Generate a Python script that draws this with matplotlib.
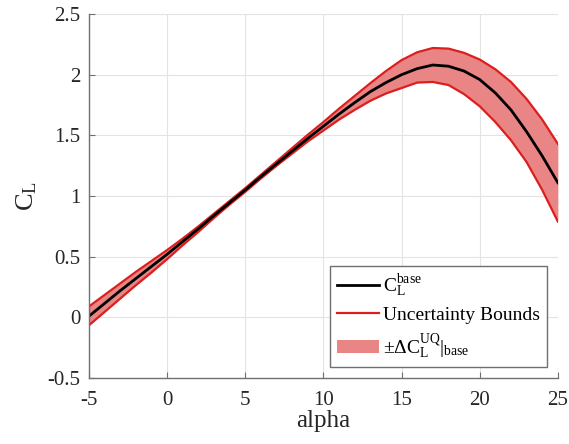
import numpy as np
import matplotlib
matplotlib.use("Agg")
import matplotlib.pyplot as plt

plt.rcParams['font.family'] = ['Liberation Serif', 'DejaVu Serif']
plt.rcParams['mathtext.fontset'] = 'custom'
plt.rcParams['mathtext.rm'] = 'Liberation Serif'
plt.rcParams['mathtext.it'] = 'Liberation Serif'

alpha = np.arange(-5, 26)

cl_base = [0.01, 0.115, 0.22, 0.32, 0.42, 0.52, 0.625, 0.73, 0.84, 0.945,
           1.05, 1.16, 1.265, 1.37, 1.475, 1.575, 1.675, 1.77, 1.86, 1.935,
           2.00, 2.05, 2.08, 2.07, 2.03, 1.96, 1.85, 1.71, 1.53, 1.33, 1.11]
cl_upper = [0.09, 0.185, 0.28, 0.375, 0.465, 0.555, 0.65, 0.75, 0.855, 0.96,
            1.065, 1.175, 1.285, 1.395, 1.505, 1.61, 1.72, 1.825, 1.93, 2.03,
            2.12, 2.185, 2.22, 2.215, 2.18, 2.125, 2.045, 1.94, 1.80, 1.63, 1.43]
cl_lower = [-0.065, 0.045, 0.155, 0.265, 0.37, 0.48, 0.595, 0.705, 0.82, 0.93,
            1.035, 1.145, 1.25, 1.35, 1.45, 1.54, 1.63, 1.71, 1.785, 1.845,
            1.89, 1.935, 1.94, 1.915, 1.84, 1.74, 1.61, 1.46, 1.28, 1.05, 0.79]

xticks = [-5, 0, 5, 10, 15, 20, 25]
yticks = [-0.5, 0, 0.5, 1, 1.5, 2, 2.5]

fig = plt.figure(figsize=(5.69, 4.44), dpi=100)
ax = fig.add_axes([0.1564, 0.1486, 0.824, 0.8198])

band = ax.fill_between(alpha, cl_lower, cl_upper, color='#e98585', linewidth=0,
                       label=r'$\pm\Delta \mathregular{C_L^{UQ}|_{base}}$')
ax.plot(alpha, cl_upper, color='#dc1e1e', linewidth=1.6)
bounds, = ax.plot(alpha, cl_lower, color='#dc1e1e', linewidth=1.6, label='Uncertainty Bounds')
base, = ax.plot(alpha, cl_base, color='black', linewidth=2.0, label=r'$\mathregular{C_L^{base}}$')

ax.set_xlim(-5, 25)
ax.set_ylim(-0.5, 2.5)
ax.set_xticks(xticks)
ax.set_yticks(yticks)
ax.set_xticklabels([f'{t:g}' for t in xticks])
ax.set_yticklabels([f'{t:g}' for t in yticks])
ax.tick_params(direction='in', length=4, width=0.8, color='#707070', labelsize=15,
               labelcolor='#262626')
ax.tick_params(axis='x', pad=9)
ax.tick_params(axis='y', pad=6)
ax.grid(True, color='#e3e3e3', linewidth=0.8)
ax.set_axisbelow(True)
for side in ['top', 'right']:
    ax.spines[side].set_visible(False)
for side in ['left', 'bottom']:
    ax.spines[side].set_color('#707070')
    ax.spines[side].set_linewidth(1.0)

ax.set_xlabel('alpha', fontsize=18, color='#262626', labelpad=0)
ax.set_ylabel(r'$\mathregular{C_L}$', fontsize=19, color='#262626', labelpad=6)

leg = ax.legend([base, bounds, band],
                [base.get_label(), bounds.get_label(), band.get_label()],
                loc='lower right', fontsize=14, fancybox=False, framealpha=1,
                edgecolor='#707070', handlelength=2.2, handletextpad=0.2,
                borderpad=0.35, labelspacing=0.4, borderaxespad=0.55)
leg.get_frame().set_linewidth(1.0)

fig.savefig('out.png', dpi=100)
